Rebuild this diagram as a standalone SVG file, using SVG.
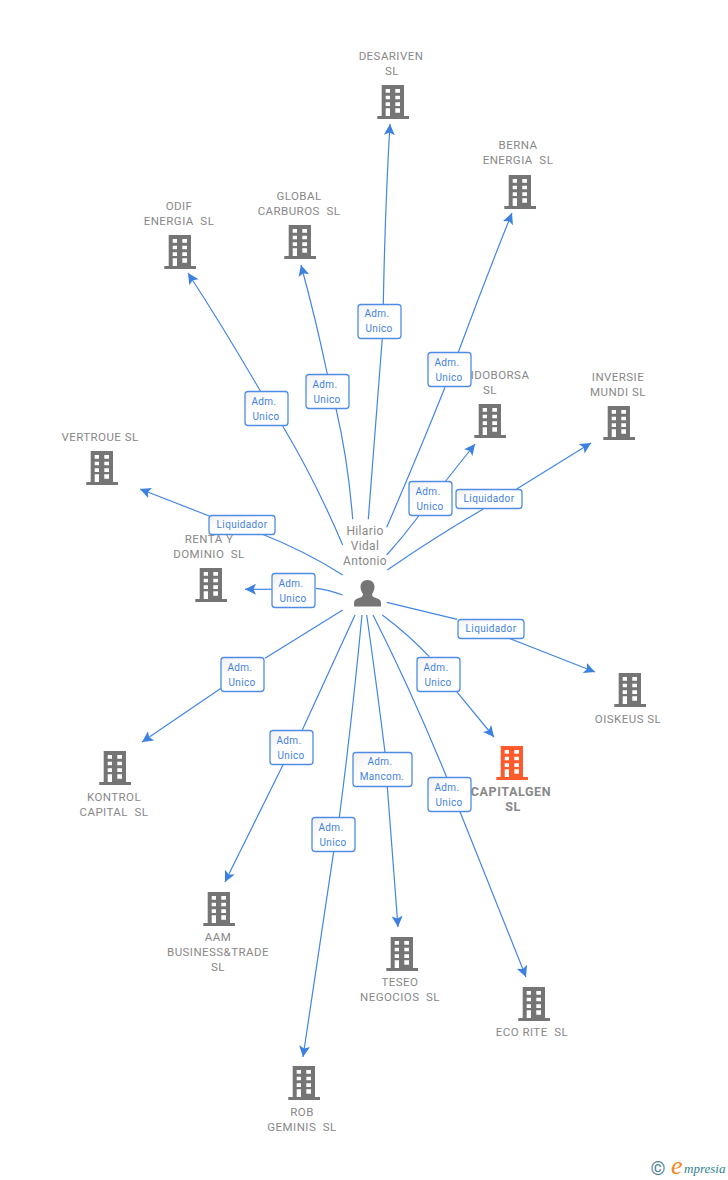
<svg xmlns="http://www.w3.org/2000/svg" width="728" height="1180" viewBox="0 0 728 1180">
<style>
text{font-family:Roboto,"Liberation Sans",sans-serif;white-space:pre}
.n{font-size:11.500px;fill:#888;text-anchor:middle;letter-spacing:.45px}
.c{font-size:12.500px;font-weight:700;fill:#888;text-anchor:middle;letter-spacing:.6px}
.p{font-size:12px;fill:#888;text-anchor:middle;letter-spacing:.35px}
.l{font-size:10px;fill:#3f82de;text-anchor:middle;letter-spacing:.35px}
.b{fill:url(#g);stroke:#4f8de4;stroke-width:1.3}
.e{fill:none;stroke:#4386e2;stroke-width:1.2}
.h{marker-end:url(#a)}
.i{fill:#757575}
</style>
<defs>
<linearGradient id="g" x1="0" y1="0" x2="1" y2="1"><stop offset="0" stop-color="#f0f0f0"/><stop offset=".4" stop-color="#fff"/></linearGradient>
<marker id="a" markerUnits="userSpaceOnUse" markerWidth="13" markerHeight="12" refX="11" refY="5.500" orient="auto" viewBox="0 0 13 11"><path d="M0 0L11 5.500L0 11L2.500 5.500Z" fill="#3c80e0"/></marker>
<path id="bld" fill-rule="evenodd" d="M-11.300 0H11V31H16V34H-15.700V31H-11.300ZM-7.300 4V7.700H-3V4ZM2.300 4V7.700H7V4ZM-7.300 10.700V14.300H-3V10.700ZM2.300 10.700V14.300H7V10.700ZM-7.300 17.300V21H-3V17.300ZM2.300 17.300V21H7V17.300ZM-7.300 23.300V31H-3V23.300ZM2.300 23.300V27.700H7V23.300Z"/>
</defs>
<rect width="728" height="1180" fill="#fff"/>
<g id="connectors">
<path class="e" d="M368.300 519.300Q375 430 382.300 338.300"/><path class="e h" d="M383.300 304Q385 210 390 124"/>
<path class="e" d="M386.700 527.300Q420 450 445 387.300"/><path class="e h" d="M458.300 352.300Q485 280 512 213"/>
<path class="e" d="M342.700 545Q315 480 282.700 426"/><path class="e h" d="M260.700 391.700Q225 330 188 273"/>
<path class="e" d="M352.700 519.300Q348 460 336 408.700"/><path class="e h" d="M327.300 374Q316 320 301 265"/>
<path class="e" d="M386.700 555Q403 537 418.700 516"/><path class="e h" d="M445.700 481L475 444"/>
<path class="e" d="M387.300 570Q435 537 483.300 509"/><path class="e h" d="M516.700 489L591 443"/>
<path class="e" d="M342.700 575Q305 551 260 533.300"/><path class="e h" d="M209.300 516L140 489"/>
<path class="e" d="M342.700 595Q330 590 316 588.300"/><path class="e h" d="M272.700 589.300H245"/>
<path class="e" d="M386.700 602.300L457.300 619.300"/><path class="e h" d="M506.700 637.300L595 672"/>
<path class="e" d="M382.300 615Q409 635 429.300 656.700"/><path class="e h" d="M456.700 691.700L494 737"/>
<path class="e" d="M342.700 610L265 658.300"/><path class="e h" d="M221 688.300L142 742"/>
<path class="e" d="M355 615L302.300 730"/><path class="e h" d="M283.300 764.300L225 882"/>
<path class="e" d="M362 615Q352 720 339.300 817.300"/><path class="e h" d="M333.700 851.700L303 1057"/>
<path class="e" d="M366.700 615Q376 680 385 752.300"/><path class="e h" d="M387.300 786.700L398 927"/>
<path class="e" d="M373 615Q411 690 446.700 777.300"/><path class="e h" d="M460 811.700L526 977"/>
</g>
<g id="edge-labels">
<rect class="b" x="358" y="304.500" width="43" height="34" rx="3"/><text class="l" x="377" y="317">Adm.</text><text class="l" x="379" y="332">Unico</text>
<rect class="b" x="428" y="352.500" width="43" height="34" rx="3"/><text class="l" x="447" y="366">Adm.</text><text class="l" x="449" y="381">Unico</text>
<rect class="b" x="245" y="391.500" width="43" height="34" rx="3"/><text class="l" x="264" y="405">Adm.</text><text class="l" x="266" y="420">Unico</text>
<rect class="b" x="306" y="374.500" width="43" height="34" rx="3"/><text class="l" x="325" y="388">Adm.</text><text class="l" x="327" y="403">Unico</text>
<rect class="b" x="409" y="481.500" width="43" height="34" rx="3"/><text class="l" x="428" y="495">Adm.</text><text class="l" x="430" y="510">Unico</text>
<rect class="b" x="272" y="573.500" width="43" height="34" rx="3"/><text class="l" x="291" y="587">Adm.</text><text class="l" x="293" y="602">Unico</text>
<rect class="b" x="417" y="657.500" width="43" height="34" rx="3"/><text class="l" x="436" y="671">Adm.</text><text class="l" x="438" y="686">Unico</text>
<rect class="b" x="221" y="657.500" width="43" height="34" rx="3"/><text class="l" x="240" y="671">Adm.</text><text class="l" x="242" y="686">Unico</text>
<rect class="b" x="270" y="730.500" width="43" height="34" rx="3"/><text class="l" x="289" y="744">Adm.</text><text class="l" x="291" y="759">Unico</text>
<rect class="b" x="312" y="817.500" width="43" height="34" rx="3"/><text class="l" x="331" y="831">Adm.</text><text class="l" x="333" y="846">Unico</text>
<rect class="b" x="428" y="777.500" width="43" height="34" rx="3"/><text class="l" x="447" y="791">Adm.</text><text class="l" x="449" y="806">Unico</text>
<rect class="b" x="353" y="752.500" width="59" height="34" rx="3"/><text class="l" x="380" y="765">Adm.</text><text class="l" x="382" y="780">Mancom.</text>
<rect class="b" x="456" y="489.500" width="66" height="19" rx="3"/><text class="l" x="489" y="502">Liquidador</text>
<rect class="b" x="209" y="515.500" width="66" height="19" rx="3"/><text class="l" x="242" y="528">Liquidador</text>
<rect class="b" x="458" y="619.500" width="66" height="19" rx="3"/><text class="l" x="491" y="632">Liquidador</text>
</g>
<g id="person"><text class="p" x="365" y="535">Hilario</text><text class="p" x="365" y="550">Vidal</text><text class="p" x="365" y="565">Antonio</text>
<path class="i" d="M367.500 580C372 580 374.500 583 374.500 587C374.500 590 373 592.500 372 594C372 596 373 597 376 598C379 599 381 600 381 603V606.500H354V603C354 600 356 599 359 598C362 597 363 596 363 594C362 592.500 360.500 590 360.500 587C360.500 583 363 580 367.500 580Z"/></g>
<g id="desariven" class="i"><text class="n" x="391" y="60">DESARIVEN</text><text class="n" x="392" y="75">SL</text><use href="#bld" x="393" y="85"/></g>
<g id="berna" class="i"><text class="n" x="518" y="149">BERNA</text><text class="n" x="518" y="164">ENERGIA  SL</text><use href="#bld" x="520" y="175"/></g>
<g id="odif" class="i"><text class="n" x="179" y="210">ODIF</text><text class="n" x="179" y="225">ENERGIA  SL</text><use href="#bld" x="180" y="235"/></g>
<g id="global" class="i"><text class="n" x="299" y="200">GLOBAL</text><text class="n" x="299" y="215">CARBUROS  SL</text><use href="#bld" x="300" y="225"/></g>
<g id="idoborsa" class="i"><text class="n" x="500" y="379">IDOBORSA</text><text class="n" x="490" y="394">SL</text><use href="#bld" x="490" y="404"/></g>
<g id="inversie" class="i"><text class="n" x="618" y="381">INVERSIE</text><text class="n" x="618" y="396">MUNDI SL</text><use href="#bld" x="619" y="406"/></g>
<g id="vertroue" class="i"><text class="n" x="100" y="441">VERTROUE SL</text><use href="#bld" x="102" y="451"/></g>
<g id="renta" class="i"><text class="n" x="209" y="543">RENTA Y</text><text class="n" x="209" y="558">DOMINIO  SL</text><use href="#bld" x="211" y="568"/></g>
<g id="oiskeus" class="i"><use href="#bld" x="630" y="673"/><text class="n" x="628" y="723">OISKEUS SL</text></g>
<g id="capitalgen" fill="#ff5a2c"><use href="#bld" x="512" y="746"/><text class="c" x="511" y="796">CAPITALGEN</text><text class="c" x="513" y="811">SL</text></g>
<g id="kontrol" class="i"><use href="#bld" x="115" y="751"/><text class="n" x="114" y="801">KONTROL</text><text class="n" x="114" y="816">CAPITAL  SL</text></g>
<g id="aam" class="i"><use href="#bld" x="219" y="892"/><text class="n" x="218" y="941">AAM</text><text class="n" x="218" y="956">BUSINESS&amp;TRADE</text><text class="n" x="218" y="971">SL</text></g>
<g id="teseo" class="i"><use href="#bld" x="402" y="937"/><text class="n" x="400" y="986">TESEO</text><text class="n" x="400" y="1001">NEGOCIOS  SL</text></g>
<g id="eco" class="i"><use href="#bld" x="534" y="987"/><text class="n" x="532" y="1036">ECO RITE  SL</text></g>
<g id="rob" class="i"><use href="#bld" x="304" y="1066"/><text class="n" x="302" y="1116">ROB</text><text class="n" x="302" y="1131">GEMINIS  SL</text></g>
<g id="logo"><text x="658" y="1175" font-size="19" fill="#4a8296" text-anchor="middle">©</text><text x="671" y="1174" font-size="26" font-style="italic" style="font-family:'Liberation Serif',serif" fill="#f08a1c">e</text><text x="684" y="1173" font-size="13" font-style="italic" style="font-family:'Liberation Serif',serif" fill="#2f7f92">mpresia</text></g>
</svg>
